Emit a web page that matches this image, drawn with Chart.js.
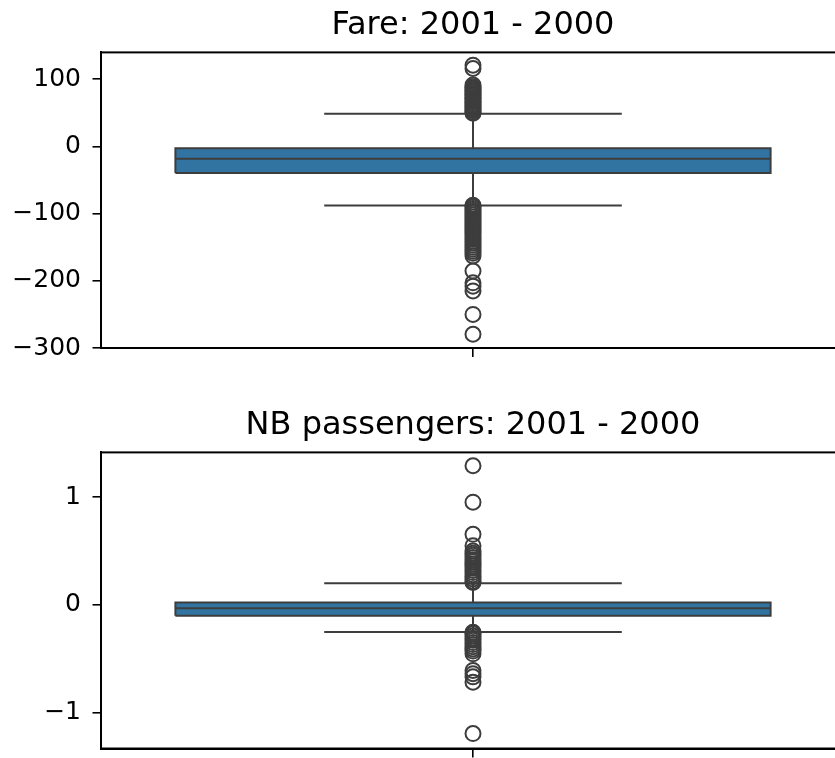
<!DOCTYPE html>
<html>
<head>
<meta charset="utf-8">
<script src="https://cdn.jsdelivr.net/npm/chart.js@4"></script>
<style>
html, body { margin: 0; padding: 0; background: #fff; overflow: hidden; width: 835px; height: 758px; }
.panel { position: absolute; left: 0; }
</style>
</head>
<body>
<div class="panel" style="top:0"><canvas id="fareChart" width="946" height="380"></canvas></div>
<div class="panel" style="top:380px"><canvas id="paxChart" width="946" height="378"></canvas></div>
<script>
// values
const titles = ['Fare: 2001 - 2000', 'NB passengers: 2001 - 2000'];
const boxLow = [-39.6, -0.102];
const boxMedian = [-18.2, -0.033];
const boxHigh = [-2.5, 0.022];
const whiskerLow = [-88, -0.253];
const whiskerHigh = [48.5, 0.2];
const yMin = [-300, -1.336];
const yMax = [140, 1.417];
const fareTicks = [100, 0, -100, -200, -300];
const paxTicks = [1, 0, -1];

const fareOutliers = [
  49.5, 51, 53, 55, 57, 59, 61, 63, 65, 67, 69, 71, 73, 75, 77, 79, 81, 83, 85, 87, 89, 91.5, 116, 121,
  -87.5, -90, -93, -96, -99, -102, -105, -108, -111, -114, -117, -120, -123, -126, -129, -132,
  -135, -138, -141, -144, -147, -150, -153, -156, -159, -163, -185.5, -203, -208, -215, -250, -279.5
];
const paxOutliers = [
  0.207, 0.22, 0.24, 0.26, 0.28, 0.3, 0.32, 0.34, 0.36, 0.38, 0.4, 0.42, 0.44, 0.46, 0.48, 0.5, 0.55, 0.655, 0.954, 1.293,
  -0.256, -0.27, -0.29, -0.31, -0.33, -0.35, -0.37, -0.39, -0.41, -0.43, -0.456, -0.61, -0.64, -0.67, -0.72, -1.197
];

const boxColor = '#3274a1';
const edgeColor = '#3d3d3d';
const boxWidth = 0.8;
const capWidth = 0.4;
const fontFamily = '"DejaVu Sans", sans-serif';

// draws the top and right spines too
const frame = {
  id: 'frame',
  afterDraw(chart) {
    const a = chart.chartArea, c = chart.ctx;
    c.save();
    c.strokeStyle = '#000';
    c.lineWidth = 2;
    c.strokeRect(a.left, a.top, a.right - a.left, a.bottom - a.top);
    c.restore();
  }
};

function minusFmt(v) {
  return v < 0 ? '\u2212' + Math.abs(v) : String(v);
}

function makeBox(id, i, outliers, ticks, topPad, axisH) {
  const lo = boxLow[i], hi = boxHigh[i], wl = whiskerLow[i], wh = whiskerHigh[i];
  const bx = boxWidth / 2, cx = capWidth / 2;
  const line = (data, order) => ({
    type: 'line',
    data: data,
    borderColor: edgeColor,
    borderWidth: 2,
    pointRadius: 0,
    spanGaps: false,
    fill: false,
    order: order
  });
  new Chart(document.getElementById(id), {
    type: 'scatter',
    data: {
      datasets: [
        {
          // box body: top edge filled down to the first quartile
          type: 'line',
          data: [{x: -bx, y: hi}, {x: bx, y: hi}],
          borderWidth: 0,
          pointRadius: 0,
          backgroundColor: boxColor,
          fill: {value: lo},
          order: 4
        },
        line([{x: -bx, y: lo}, {x: -bx, y: hi}, {x: bx, y: hi}, {x: bx, y: lo}, {x: -bx, y: lo}], 3),
        line([{x: -bx, y: boxMedian[i]}, {x: bx, y: boxMedian[i]}], 2),
        line([
          {x: 0, y: hi}, {x: 0, y: wh}, {x: 0, y: null},
          {x: -cx, y: wh}, {x: cx, y: wh}, {x: 0, y: null},
          {x: 0, y: lo}, {x: 0, y: wl}, {x: 0, y: null},
          {x: -cx, y: wl}, {x: cx, y: wl}
        ], 2),
        {
          type: 'scatter',
          data: outliers.map(v => ({x: 0, y: v})),
          pointStyle: 'circle',
          pointRadius: 7.5,
          borderWidth: 2,
          borderColor: edgeColor,
          backgroundColor: 'rgba(0,0,0,0)',
          order: 1
        }
      ]
    },
    options: {
      responsive: false,
      animation: false,
      layout: { padding: { top: topPad, left: 0, right: 101, bottom: 0 } },
      plugins: {
        legend: { display: false },
        tooltip: { enabled: false },
        title: {
          display: true,
          fullSize: false,
          text: titles[i],
          color: '#000',
          font: { family: fontFamily, size: 32, weight: 'normal', lineHeight: 1.2 },
          padding: { top: 6, bottom: 8 }
        }
      },
      scales: {
        x: {
          type: 'linear',
          min: -0.5,
          max: 0.5,
          offset: false,
          afterBuildTicks: s => { s.ticks = [{value: 0}]; },
          grid: { display: true, drawOnChartArea: false, drawTicks: true, tickLength: 9, color: '#000', lineWidth: 1.6 },
          border: { display: true, color: '#000', width: 2 },
          ticks: { callback: () => '', font: { family: fontFamily, size: 25 } },
          afterFit: s => { s.height = axisH; s.paddingLeft = 0; s.paddingRight = 0; }
        },
        y: {
          type: 'linear',
          min: yMin[i],
          max: yMax[i],
          afterBuildTicks: s => { s.ticks = ticks.map(v => ({value: v})); },
          ticks: {
            callback: minusFmt,
            color: '#000',
            padding: 11.5,
            font: { family: fontFamily, size: 25 }
          },
          grid: { drawOnChartArea: false, drawTicks: true, tickLength: 8.5, color: '#000', lineWidth: 1.6 },
          border: { display: true, color: '#000', width: 2 },
          afterFit: s => { s.width = 101; s.paddingTop = 0; s.paddingBottom = 0; }
        }
      }
    },
    plugins: [frame]
  });
}

makeBox('fareChart', 0, fareOutliers, fareTicks, 0, 32);
makeBox('paxChart', 1, paxOutliers, paxTicks, 20, 8);
</script>
</body>
</html>
